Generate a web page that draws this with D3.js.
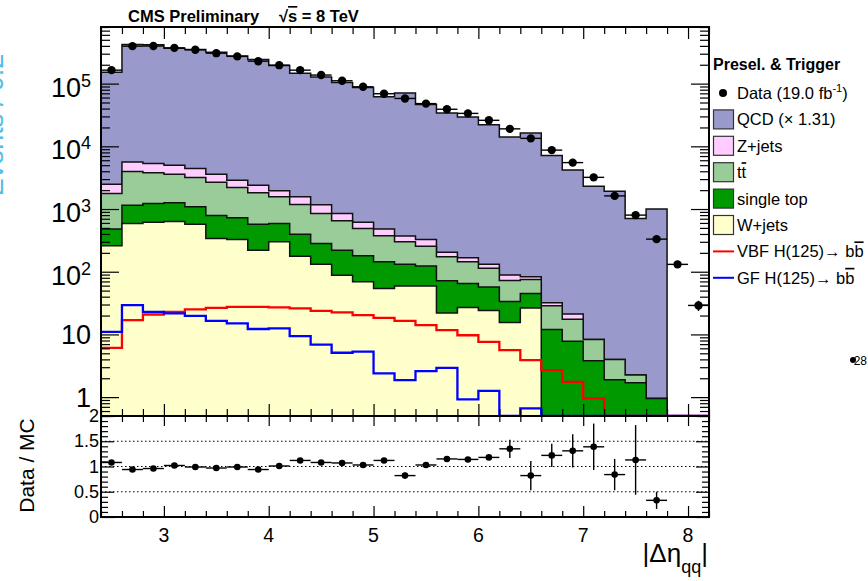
<!DOCTYPE html>
<html>
<head>
<meta charset="utf-8">
<script src="https://cdn.jsdelivr.net/npm/d3@7"></script>
<style>
  body { margin: 0; background: #fff; }
  svg { display: block; font-family: "Liberation Sans", Arial, Helvetica, sans-serif; }
</style>
</head>
<body>
<svg id="chart" width="868" height="581"></svg>
<script>
// Bin centres of |delta eta_qq|, every bin is 0.2 wide
const etaBins = [2.5, 2.7, 2.9, 3.1, 3.3, 3.5, 3.7, 3.9, 4.1, 4.3, 4.5, 4.7, 4.9, 5.1, 5.3,
  5.5, 5.7, 5.9, 6.1, 6.3, 6.5, 6.7, 6.9, 7.1, 7.3, 7.5, 7.7, 7.9, 8.1];
const BIN_WIDTH = 0.2;

// Events per bin
const dataCounts = [164000, 396000, 398000, 372000, 346000, 306000, 272000, 228000, 197000,
  164000, 137000, 111000, 89000, 69000, 58000, 48000, 39000, 33500, 26000, 19000, 13400,
  8700, 5500, 3200, 1620, 800, 331, 131, 29];

// Background processes (stacked, bottom to top: W+jets, single top, tt, Z+jets, QCD)
const wJets = [259, 589, 618, 634, 574, 340, 327, 221, 300, 177, 132, 88, 69, 54, 59, 59,
  22, 27, 24, 15.5, 26.5, 0, 0, 0, 0, 0, 0, 0, 0];
const singleTop = [219, 564, 610, 622, 510, 451, 397, 353, 289, 218, 151, 133, 110, 90, 73,
  64, 50, 38, 33, 18, 18.5, 12, 7.8, 3.8, 1.9, 1.7, 0.95, 0, 0];
const ttbar = [1297, 2827, 2552, 2344, 2106, 1894, 1486, 1239, 976, 788, 568, 428, 311, 230,
  168, 133, 101, 79, 57, 39, 30, 16.6, 9.7, 4.5, 2.1, 0.55, 0, 0, 0];
const zJets = [720, 1620, 1550, 1410, 1250, 885, 680, 592, 385, 382, 316, 202, 128, 104, 70,
  71, 32, 23, 18, 16, 8, 3.3, 3.6, 0, 0, 0, 0, 0, 0];
const qcd = [149500, 415000, 410000, 360000, 344500, 311500, 272000, 240500, 193000, 144500,
  126000, 103000, 85800, 61100, 70300, 46300, 33700, 29200, 21900, 14000, 16200, 7100, 4180,
  2290, 1925, 706, 1000, 0, 0];

// Signal histograms (drawn as lines, not stacked)
const vbfSignal = [6.1, 16.9, 20.8, 22.9, 25.1, 26.6, 27.6, 27.6, 27, 26, 23.8, 22.4, 20.3,
  18.4, 16.5, 14.1, 11.7, 9.7, 7.6, 5.6, 3.9, 2.7, 1.75, 0.95, 0, 0, 0, 0, 0];
const ggfSignal = [11.0, 29.3, 22.9, 21.6, 19.8, 16.5, 15.0, 12.2, 12.5, 9.4, 6.9, 5.1, 5.3,
  2.4, 1.87, 2.6, 2.93, 0.92, 1.26, 0, 0.66, 0, 0, 0, 0, 0, 0, 0, 0];

// Data / MC ratio for the bins that have MC (2.5 .. 7.7)
const ratioValues = [1.08, 0.94, 0.96, 1.02, 0.99, 0.97, 0.99, 0.94, 1.01, 1.12, 1.08, 1.07,
  1.03, 1.12, 0.82, 1.03, 1.15, 1.14, 1.18, 1.35, 0.82, 1.22, 1.31, 1.39, 0.84, 1.13, 0.33];
const ratioErrors = [0.01, 0.01, 0.01, 0.01, 0.01, 0.01, 0.01, 0.01, 0.015, 0.015, 0.015, 0.02,
  0.05, 0.03, 0.06, 0.03, 0.05, 0.04, 0.05, 0.18, 0.29, 0.23, 0.33, 0.46, 0.31, 0.69, 0.17];

// Tick labels
const xTickLabels = [3, 4, 5, 6, 7, 8];
const yTickLabels = [1, 10, 100, 1000, 10000, 100000];
const ratioTickLabels = [0, 0.5, 1, 1.5, 2];
const ratioGuides = [0.5, 1, 1.5];

// Frame of the two pads (main on top, ratio below)
const frame = {left: 101, right: 709, top: 27, mid: 416, bottom: 517};

const COLOURS = {
  qcd: '#9999cc',
  zJets: '#ffccff',
  ttbar: '#99cc99',
  singleTop: '#009900',
  wJets: '#ffffcc',
  vbf: '#ff0000',
  ggf: '#0000ff',
};

const svg = d3.select('#chart');

// Scales
const x = d3.scaleLinear().domain([2.4, 8.2]).range([frame.left, frame.right]);
const y = d3.scaleLog().domain([0.5, 8e5]).range([frame.mid, frame.top]);
const yr = d3.scaleLinear().domain([0, 2]).range([frame.bottom, frame.mid]);

// Values under the axis minimum are pinned to the bottom of the pad
const yClamp = (v) => y(Math.max(v, y.domain()[0]));

// Turns per-bin values into histogram step points [edge, value]
function steps(values) {
  return values.flatMap((v, i) => [
    [etaBins[i] - BIN_WIDTH / 2, v],
    [etaBins[i] + BIN_WIDTH / 2, v],
  ]);
}

const defs = svg.append('defs');
defs.append('clipPath').attr('id', 'mainClip').append('rect')
  .attr('x', frame.left).attr('y', frame.top)
  .attr('width', frame.right - frame.left).attr('height', frame.mid - frame.top);
defs.append('clipPath').attr('id', 'ratioClip').append('rect')
  .attr('x', frame.left).attr('y', frame.mid)
  .attr('width', frame.right - frame.left).attr('height', frame.bottom - frame.mid);

// y title of the main pad; on the slide it is cut off at the left edge
svg.append('text')
  .attr('transform', 'translate(3,125) rotate(-90)')
  .attr('text-anchor', 'middle')
  .attr('font-size', 27)
  .attr('fill', '#55bbe8')
  .text('Events / 0.2');

// ---- Main pad --------------------------------------------------------------
const plot = svg.append('g').attr('clip-path', 'url(#mainClip)');

const rows = etaBins.map((eta, i) => ({
  eta,
  wJets: wJets[i],
  singleTop: singleTop[i],
  ttbar: ttbar[i],
  zJets: zJets[i],
  qcd: qcd[i],
}));
const layers = d3.stack().keys(['wJets', 'singleTop', 'ttbar', 'zJets', 'qcd'])(rows);

const area = d3.area()
  .x((p) => x(p[0]))
  .y0(frame.mid)
  .y1((p) => yClamp(p[1]));
const line = d3.line()
  .x((p) => x(p[0]))
  .y((p) => yClamp(p[1]));

// Like ROOT's THStack: draw cumulative histograms from the largest down
layers.slice().reverse().forEach((layer) => {
  const pts = steps(layer.map((d) => d[1]));
  plot.append('path')
    .attr('d', area(pts))
    .attr('fill', COLOURS[layer.key]);
  const outline = [[pts[0][0], 0], ...pts, [pts[pts.length - 1][0], 0]];
  plot.append('path')
    .attr('d', line(outline))
    .attr('fill', 'none')
    .attr('stroke', '#111')
    .attr('stroke-width', 1.5);
});

// Signal lines
[[vbfSignal, COLOURS.vbf], [ggfSignal, COLOURS.ggf]].forEach(([values, colour]) => {
  plot.append('path')
    .attr('d', line(steps(values)))
    .attr('fill', 'none')
    .attr('stroke', colour)
    .attr('stroke-width', 2.3);
});

// Data points with horizontal bin bars and sqrt(N) vertical errors
const points = plot.append('g').attr('stroke', '#000').attr('stroke-width', 1.4);
etaBins.forEach((eta, i) => {
  const n = dataCounts[i];
  points.append('line')
    .attr('x1', x(eta - BIN_WIDTH / 2)).attr('x2', x(eta + BIN_WIDTH / 2))
    .attr('y1', y(n)).attr('y2', y(n));
  points.append('line')
    .attr('x1', x(eta)).attr('x2', x(eta))
    .attr('y1', y(n + Math.sqrt(n))).attr('y2', y(n - Math.sqrt(n)));
  points.append('circle')
    .attr('cx', x(eta)).attr('cy', y(n)).attr('r', 4.2)
    .attr('fill', '#000').attr('stroke', 'none');
});

// ---- Ratio pad -------------------------------------------------------------
const ratio = svg.append('g').attr('clip-path', 'url(#ratioClip)');

ratio.selectAll('line.guide')
  .data(ratioGuides)
  .join('line')
  .attr('class', 'guide')
  .attr('x1', frame.left).attr('x2', frame.right)
  .attr('y1', (d) => yr(d)).attr('y2', (d) => yr(d))
  .attr('stroke', '#000')
  .attr('stroke-width', 1)
  .attr('stroke-dasharray', '1.5,2.5');

const rpoints = ratio.append('g').attr('stroke', '#000').attr('stroke-width', 1.4);
ratioValues.forEach((r, i) => {
  const eta = etaBins[i];
  rpoints.append('line')
    .attr('x1', x(eta - BIN_WIDTH / 2)).attr('x2', x(eta + BIN_WIDTH / 2))
    .attr('y1', yr(r)).attr('y2', yr(r));
  rpoints.append('line')
    .attr('x1', x(eta)).attr('x2', x(eta))
    .attr('y1', yr(r + ratioErrors[i])).attr('y2', yr(r - ratioErrors[i]));
  rpoints.append('circle')
    .attr('cx', x(eta)).attr('cy', yr(r)).attr('r', 3.3)
    .attr('fill', '#000').attr('stroke', 'none');
});

// ---- Axes (ticks point inward, like ROOT) ---------------------------------
const isInteger = (t) => Math.abs(t - Math.round(t)) < 1e-6;
const xAll = x.ticks(29);
const xMajor = xAll.filter(isInteger);
const xMinor = xAll.filter((t) => !isInteger(t));
const yAll = y.ticks();
const isDecade = (t) => Math.abs(Math.log10(t) - Math.round(Math.log10(t))) < 1e-6;
const yMajor = yAll.filter(isDecade);
const yMinor = yAll.filter((t) => !isDecade(t));
const yrMajor = ratioTickLabels;
const yrMinor = yr.ticks(20).filter((t) => !yrMajor.includes(t));

function ticks(axisFn, scale, values, size, tx, ty) {
  const g = svg.append('g')
    .attr('transform', `translate(${tx},${ty})`)
    .call(axisFn(scale).tickValues(values).tickSize(-size).tickFormat(''));
  g.select('.domain').remove();
  g.selectAll('line').attr('stroke', '#000').attr('stroke-width', 1.2);
}

// main pad
ticks(d3.axisBottom, x, xMajor, 12, 0, frame.mid);
ticks(d3.axisBottom, x, xMinor, 7, 0, frame.mid);
ticks(d3.axisTop, x, xMajor, 12, 0, frame.top);
ticks(d3.axisTop, x, xMinor, 7, 0, frame.top);
ticks(d3.axisLeft, y, yMajor, 18, frame.left, 0);
ticks(d3.axisLeft, y, yMinor, 9, frame.left, 0);
ticks(d3.axisRight, y, yMajor, 18, frame.right, 0);
ticks(d3.axisRight, y, yMinor, 9, frame.right, 0);
// ratio pad
ticks(d3.axisBottom, x, xMajor, 11, 0, frame.bottom);
ticks(d3.axisBottom, x, xMinor, 6, 0, frame.bottom);
ticks(d3.axisTop, x, xMajor, 10, 0, frame.mid);
ticks(d3.axisTop, x, xMinor, 6, 0, frame.mid);
ticks(d3.axisLeft, yr, yrMajor, 13, frame.left, 0);
ticks(d3.axisLeft, yr, yrMinor, 7, frame.left, 0);
ticks(d3.axisRight, yr, yrMajor, 13, frame.right, 0);
ticks(d3.axisRight, yr, yrMinor, 7, frame.right, 0);

// Pad frames
[[frame.top, frame.mid], [frame.mid, frame.bottom]].forEach(([t, b]) => {
  svg.append('rect')
    .attr('x', frame.left).attr('y', t)
    .attr('width', frame.right - frame.left).attr('height', b - t)
    .attr('fill', 'none').attr('stroke', '#000').attr('stroke-width', 2);
});

// Log y labels: plain for 1 and 10, 10^n otherwise
yTickLabels.forEach((v) => {
  const exp = Math.round(Math.log10(v));
  const t = svg.append('text')
    .attr('text-anchor', 'end')
    .attr('font-size', 27)
    .attr('fill', '#000');
  if (exp < 2) {
    t.attr('x', 91).attr('y', y(v) + 10).text(String(v));
  } else {
    t.attr('x', 91).attr('y', y(v) + 13);
    t.append('tspan').text('10');
    t.append('tspan').attr('font-size', 18).attr('dy', -10).text(String(exp));
  }
});

// Ratio y labels
svg.selectAll('text.rlabel')
  .data(ratioTickLabels)
  .join('text')
  .attr('class', 'rlabel')
  .attr('x', 99)
  .attr('y', (d) => yr(d) + 6)
  .attr('text-anchor', 'end')
  .attr('font-size', 18)
  .text((d) => String(d));

// x labels
svg.selectAll('text.xlabel')
  .data(xTickLabels)
  .join('text')
  .attr('class', 'xlabel')
  .attr('x', (d) => x(d))
  .attr('y', 542)
  .attr('text-anchor', 'middle')
  .attr('font-size', 19.5)
  .text((d) => String(d));

// x title |Δη_qq|
const xTitle = svg.append('text')
  .attr('x', 708).attr('y', 562)
  .attr('text-anchor', 'end')
  .attr('font-size', 26);
xTitle.append('tspan').text('|Δη');
xTitle.append('tspan').attr('font-size', 18).attr('dy', 11).text('qq');
xTitle.append('tspan').attr('dy', -11).text('|');

// Ratio y title
svg.append('text')
  .attr('transform', `translate(34,${(frame.mid + frame.bottom) / 2 - 1}) rotate(-90)`)
  .attr('text-anchor', 'middle')
  .attr('font-size', 21)
  .text('Data / MC');

// Header
const header = svg.append('g').attr('font-weight', 'bold').attr('font-size', 16.5);
header.append('text').attr('x', 128).attr('y', 22).text('CMS Preliminary');
const energy = header.append('text').attr('x', 279).attr('y', 22);
energy.append('tspan').text('√');
energy.append('tspan').attr('text-decoration', 'overline').text('s');
energy.append('tspan').text(' = 8 TeV');

// ---- Legend ----------------------------------------------------------------
const legendEntries = [
  {kind: 'dot', parts: [['Data (19.0 fb'], ['-1', 'sup'], [')']]},
  {kind: 'box', colour: COLOURS.qcd, parts: [['QCD (× 1.31)']]},
  {kind: 'box', colour: COLOURS.zJets, parts: [['Z+jets']]},
  {kind: 'box', colour: COLOURS.ttbar, parts: [['t'], ['t', 'bar']]},
  {kind: 'box', colour: COLOURS.singleTop, parts: [['single top']]},
  {kind: 'box', colour: COLOURS.wJets, parts: [['W+jets']]},
  {kind: 'line', colour: COLOURS.vbf, parts: [['VBF H(125)→ b'], ['b', 'bar']]},
  {kind: 'line', colour: COLOURS.ggf, parts: [['GF H(125)→ b'], ['b', 'bar']]},
];

const legend = svg.append('g');
legend.append('text')
  .attr('x', 713).attr('y', 70)
  .attr('font-weight', 'bold').attr('font-size', 16)
  .text('Presel. & Trigger');

legendEntries.forEach((entry, i) => {
  const cy = 93 + i * 26.4;
  if (entry.kind === 'dot') {
    legend.append('circle').attr('cx', 723).attr('cy', cy).attr('r', 4);
  } else if (entry.kind === 'box') {
    legend.append('rect')
      .attr('x', 713.5).attr('y', cy - 9.5).attr('width', 20).attr('height', 19)
      .attr('fill', entry.colour).attr('stroke', '#333').attr('stroke-width', 1.2);
  } else {
    legend.append('line')
      .attr('x1', 713).attr('x2', 734).attr('y1', cy).attr('y2', cy)
      .attr('stroke', entry.colour).attr('stroke-width', 2);
  }
  const label = legend.append('text')
    .attr('x', 737).attr('y', cy + 6)
    .attr('font-size', 16.5);
  entry.parts.forEach(([txt, style]) => {
    const span = label.append('tspan').text(txt);
    if (style === 'sup') {
      span.attr('font-size', 11).attr('dy', -7);
    } else if (style === 'bar') {
      span.attr('text-decoration', 'overline');
    }
  });
  // bring the baseline back after a superscript
  if (entry.parts.some((p) => p[1] === 'sup')) {
    label.selectAll('tspan').filter((d, j, nodes) => j === nodes.length - 1).attr('dy', 7);
  }
});

// Page mark of the slide at the right edge
svg.append('circle').attr('cx', 853).attr('cy', 360).attr('r', 3);
svg.append('text')
  .attr('x', 867).attr('y', 365)
  .attr('text-anchor', 'end')
  .attr('font-size', 12)
  .text('28');
</script>
</body>
</html>
